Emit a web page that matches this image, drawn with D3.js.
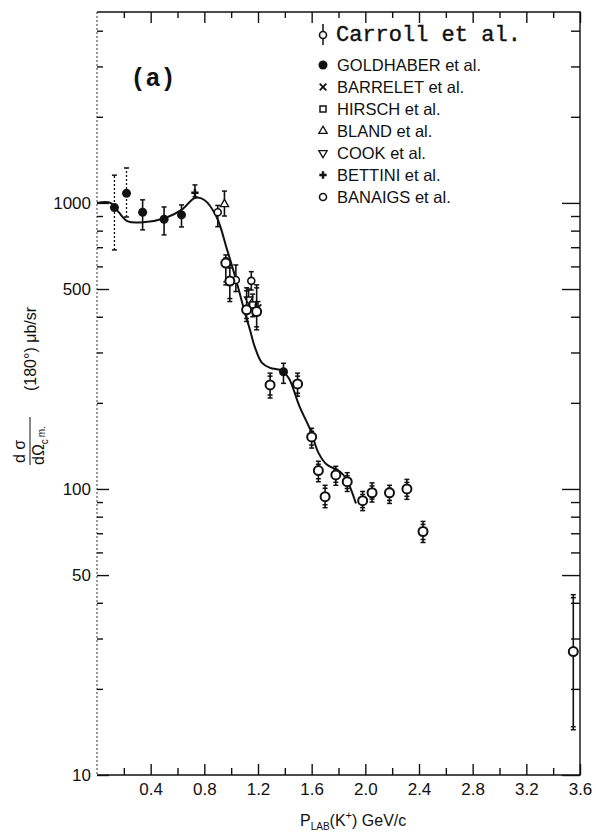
<!DOCTYPE html>
<html>
<head>
<meta charset="utf-8">
<script src="https://cdn.jsdelivr.net/npm/d3@7"></script>
<style>
  body { margin: 0; background: #fff; }
  svg { display: block; }
  text { fill: #111; }
</style>
</head>
<body>
<svg id="chart" width="596" height="835"></svg>
<script>
// Carroll et al. (open circles with capped error bars)
const carrollP  = [0.96, 0.99, 1.115, 1.19, 1.29, 1.495, 1.60, 1.65, 1.70, 1.78, 1.865, 1.98, 2.05, 2.18, 2.31, 2.43, 3.55];
const carrollV  = [616, 533, 423, 417, 231, 233, 152, 116, 94, 112, 106, 91, 97, 97, 100, 71, 27];
const carrollLo = [517, 452, 385, 360, 208, 211, 139, 106, 86, 103, 98, 84, 90, 89, 92, 65, 14.4];
const carrollHi = [658, 607, 505, 517, 254, 254, 163, 125, 103, 120, 114, 98, 105, 103, 108, 77, 42.7];

// other experiments
const goldhaberP  = [0.13, 0.22, 0.34, 0.50, 0.63, 1.39];
const goldhaberV  = [963, 1080, 928, 877, 908, 257];
const goldhaberLo = [685, 893, 805, 773, 824, 234];
const goldhaberHi = [1250, 1325, 1025, 968, 984, 275];

const banaigsP  = [0.90, 1.035, 1.15];
const banaigsV  = [928, 538, 534];
const banaigsLo = [826, 490, 496];
const banaigsHi = [980, 607, 575];

const blandP = [0.95], blandV = [990], blandLo = [900], blandHi = [1100];
const cookP = [1.13], cookV = [460], cookLo = [420], cookHi = [500];
const hirschP = [1.16], hirschV = [440], hirschLo = [400], hirschHi = [480];
const bettiniP = [0.73], bettiniV = [1086], bettiniLo = [1050], bettiniHi = [1156];
const barreletP = [1.2], barreletV = [430], barreletLo = [405], barreletHi = [452];

// theory curve
const curveP = [0, 0.10, 0.16, 0.23, 0.36, 0.51, 0.63, 0.73, 0.80, 0.89, 0.97, 1.03, 1.09, 1.14, 1.18, 1.23, 1.29, 1.38, 1.43, 1.51, 1.59, 1.65, 1.71, 1.81, 1.86, 1.93];
const curveV = [1000, 1000, 930, 862, 858, 886, 945, 1041, 1024, 896, 685, 552, 434, 360, 310, 276, 265, 259, 244, 194, 161, 134, 122, 115, 108, 89];

// ticks
const xLabelTicks = [0.4, 0.8, 1.2, 1.6, 2.0, 2.4, 2.8, 3.2, 3.6];
const xMinorTicks = [0.2, 0.6, 1.0, 1.4, 1.8, 2.2, 2.6, 3.0, 3.4];
const yLabelTicks = [10, 50, 100, 500, 1000];
const yMinorTicks = [20, 30, 40, 60, 70, 80, 90, 200, 300, 400, 600, 700, 800, 900, 2000, 3000, 4000];

const legendNames = ["GOLDHABER et al.", "BARRELET et al.", "HIRSCH et al.", "BLAND et al.", "COOK et al.", "BETTINI et al.", "BANAIGS et al."];
const legendSymbols = ["filled", "cross", "square", "up", "down", "plus", "small"];

const svg = d3.select("#chart");
const mLeft = 97, mRight = 580, mTop = 12, mBottom = 775;

const x = d3.scaleLinear().domain([0, 3.6]).range([mLeft, mRight]);
const y = d3.scaleLog().domain([10, 4650]).range([mBottom, mTop]);

const sans = "Liberation Sans, Arial, sans-serif";
const mono = "Liberation Mono, Courier New, monospace";

// frame
svg.append("line").attr("x1", mLeft).attr("x2", mLeft).attr("y1", mTop).attr("y2", mBottom)
    .attr("stroke", "#555").attr("stroke-width", 1.2).attr("stroke-dasharray", "2,2");
svg.append("path")
    .attr("d", `M${mLeft},${mTop}H${mRight}V${mBottom}H${mLeft}`)
    .attr("fill", "none").attr("stroke", "#111").attr("stroke-width", 1.4);

function styleAxis(g) {
    g.select(".domain").remove();
    g.selectAll("line").attr("stroke", "#111").attr("stroke-width", 1.4);
    g.selectAll("text").attr("font-family", sans).attr("font-size", 17).attr("fill", "#222");
}

// bottom axis
svg.append("g").attr("transform", `translate(0,${mBottom})`)
    .call(d3.axisBottom(x).tickValues(xLabelTicks).tickSize(-11).tickPadding(8).tickFormat(d3.format(".1f")))
    .call(styleAxis);
svg.append("g").attr("transform", `translate(0,${mBottom})`)
    .call(d3.axisBottom(x).tickValues(xMinorTicks).tickSize(-7).tickFormat(""))
    .call(styleAxis);
// top axis
svg.append("g").attr("transform", `translate(0,${mTop})`)
    .call(d3.axisTop(x).tickValues(xLabelTicks).tickSize(-11).tickFormat(""))
    .call(styleAxis);
svg.append("g").attr("transform", `translate(0,${mTop})`)
    .call(d3.axisTop(x).tickValues(xMinorTicks).tickSize(-6).tickFormat(""))
    .call(styleAxis);
// left axis
svg.append("g").attr("transform", `translate(${mLeft},0)`)
    .call(d3.axisLeft(y).tickValues(yLabelTicks).tickSize(-12).tickPadding(6).tickFormat(d3.format("d")))
    .call(styleAxis);
svg.append("g").attr("transform", `translate(${mLeft},0)`)
    .call(d3.axisLeft(y).tickValues(yMinorTicks).tickSize(-6).tickFormat(""))
    .call(styleAxis);
// right axis
svg.append("g").attr("transform", `translate(${mRight},0)`)
    .call(d3.axisRight(y).tickValues(yLabelTicks).tickSize(-18).tickFormat(""))
    .call(styleAxis);
svg.append("g").attr("transform", `translate(${mRight},0)`)
    .call(d3.axisRight(y).tickValues(yMinorTicks).tickSize(-9).tickFormat(""))
    .call(styleAxis);

// theory curve
const line = d3.line().x(d => x(d[0])).y(d => y(d[1])).curve(d3.curveCatmullRom.alpha(0.5));
svg.append("path")
    .datum(d3.zip(curveP, curveV))
    .attr("d", line)
    .attr("fill", "none").attr("stroke", "#111").attr("stroke-width", 2);

// error bars
function errorBars(ps, lo, hi, opts = {}) {
    const g = svg.append("g");
    ps.forEach((p, i) => {
        const cx = x(p), y1 = y(lo[i]), y2 = y(hi[i]);
        const dotted = opts.dotted && opts.dotted(i);
        g.append("line").attr("x1", cx).attr("x2", cx).attr("y1", y1).attr("y2", y2)
            .attr("stroke", "#111").attr("stroke-width", dotted ? 1.3 : 1.6)
            .attr("stroke-dasharray", dotted ? "2,2" : null);
        const caps = opts.double ? [0, 3] : [0];
        caps.forEach(off => {
            [[y1, -off], [y2, off]].forEach(([yy, o]) => {
                g.append("line").attr("x1", cx - 2.5).attr("x2", cx + 2.5)
                    .attr("y1", yy + o).attr("y2", yy + o)
                    .attr("stroke", "#111").attr("stroke-width", 1.5);
            });
        });
    });
}

function symbol(g, kind, cx, cy) {
    const s = "#111";
    if (kind === "carroll") {
        g.append("circle").attr("cx", cx).attr("cy", cy).attr("r", 4.5)
            .attr("fill", "#fff").attr("stroke", s).attr("stroke-width", 2);
    } else if (kind === "filled") {
        g.append("circle").attr("cx", cx).attr("cy", cy).attr("r", 4.5).attr("fill", s);
    } else if (kind === "small") {
        g.append("circle").attr("cx", cx).attr("cy", cy).attr("r", 3.5)
            .attr("fill", "#fff").attr("stroke", s).attr("stroke-width", 1.6);
    } else if (kind === "square") {
        g.append("rect").attr("x", cx - 3).attr("y", cy - 3).attr("width", 6).attr("height", 6)
            .attr("fill", "#fff").attr("stroke", s).attr("stroke-width", 1.5);
    } else if (kind === "up" || kind === "down") {
        g.append("path").attr("d", d3.symbol().type(d3.symbolTriangle).size(30)())
            .attr("transform", `translate(${cx},${cy})` + (kind === "down" ? " rotate(180)" : ""))
            .attr("fill", "#fff").attr("stroke", s).attr("stroke-width", 1.3);
    } else if (kind === "plus") {
        g.append("path").attr("d", d3.symbol().type(d3.symbolCross).size(30)())
            .attr("transform", `translate(${cx},${cy})`).attr("fill", s);
    } else if (kind === "cross") {
        g.append("path").attr("d", d3.symbol().type(d3.symbolX).size(30)())
            .attr("transform", `translate(${cx},${cy})`).attr("fill", "none").attr("stroke", s).attr("stroke-width", 1.8);
    }
}

function series(ps, vs, lo, hi, kind, opts) {
    errorBars(ps, lo, hi, opts);
    const g = svg.append("g");
    ps.forEach((p, i) => symbol(g, kind, x(p), y(vs[i])));
}

series(goldhaberP, goldhaberV, goldhaberLo, goldhaberHi, "filled", { dotted: i => i < 2 });
series(bettiniP, bettiniV, bettiniLo, bettiniHi, "plus");
series(blandP, blandV, blandLo, blandHi, "up");
series(cookP, cookV, cookLo, cookHi, "down");
series(hirschP, hirschV, hirschLo, hirschHi, "square");
series(barreletP, barreletV, barreletLo, barreletHi, "cross");
series(banaigsP, banaigsV, banaigsLo, banaigsHi, "small");
series(carrollP, carrollV, carrollLo, carrollHi, "carroll", { double: true });

// legend
const lg = svg.append("g");
lg.append("line").attr("x1", 323).attr("x2", 323).attr("y1", 24).attr("y2", 45)
    .attr("stroke", "#111").attr("stroke-width", 1.5);
symbol(lg, "small", 323, 35);
lg.append("text").attr("x", 336).attr("y", 41).attr("font-family", mono).attr("font-size", 22)
    .attr("stroke", "#111").attr("stroke-width", 0.4)
    .text("Carroll et al.");
legendNames.forEach((name, i) => {
    const cy = 65 + i * 22;
    symbol(lg, legendSymbols[i], 323, cy);
    lg.append("text").attr("x", 337).attr("y", cy + 6).attr("font-family", sans).attr("font-size", 16.5)
        .text(name);
});

// panel label
svg.append("text").attr("x", 153).attr("y", 86).attr("text-anchor", "middle")
    .attr("font-family", mono).attr("font-size", 25).attr("font-weight", "bold").text("(a)");

// x title
const xt = svg.append("text").attr("x", 300).attr("y", 826).attr("font-family", sans).attr("font-size", 16);
xt.append("tspan").text("P");
xt.append("tspan").attr("font-size", 10).attr("dy", 4).text("LAB");
xt.append("tspan").attr("dy", -4).text("(K");
xt.append("tspan").attr("font-size", 11).attr("dy", -7).text("+");
xt.append("tspan").attr("dy", 7).text(") GeV/c");

// y title
const yt = svg.append("g").attr("transform", "translate(30,465) rotate(-90)");
yt.append("text").attr("x", 2).attr("y", -5).attr("font-family", sans).attr("font-size", 16).text("d σ");
yt.append("line").attr("x1", 0).attr("x2", 48).attr("y1", 0).attr("y2", 0).attr("stroke", "#111").attr("stroke-width", 1);
const den = yt.append("text").attr("x", 0).attr("y", 14).attr("font-family", sans).attr("font-size", 16);
den.append("tspan").text("dΩ");
den.append("tspan").attr("font-size", 10).attr("dy", 4).text("c");
den.append("tspan").attr("font-size", 10).attr("dy", -3).attr("dx", 2).text("m.");
yt.append("text").attr("x", 74).attr("y", 6).attr("font-family", sans).attr("font-size", 16).text("(180°) μb/sr");
</script>
</body>
</html>
